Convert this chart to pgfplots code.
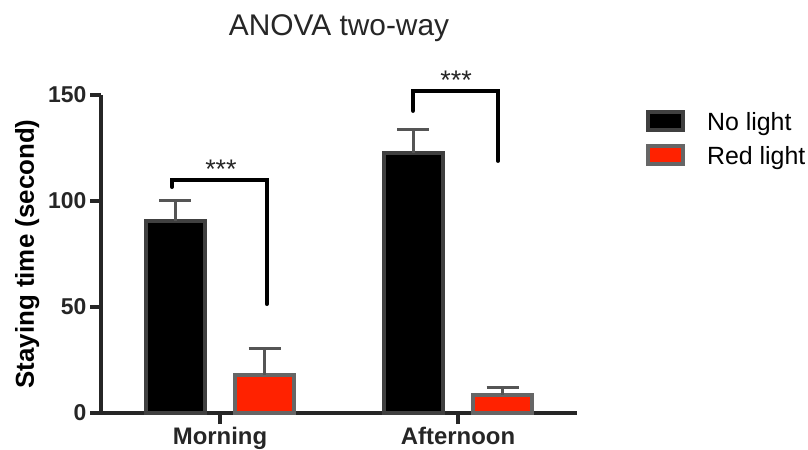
\documentclass[border=0pt]{standalone}
\usepackage{pgfplots}
\pgfplotsset{compat=1.18}
\usepackage{fontspec}
\setmainfont{Liberation Sans}
\definecolor{nlborder}{HTML}{404040}
\definecolor{rlborder}{HTML}{666666}
\definecolor{redfill}{HTML}{FF2200}
\definecolor{errgray}{HTML}{555555}
\definecolor{axisgray}{HTML}{262626}
\begin{document}
\begin{tikzpicture}
\begin{axis}[
  at={(101bp,37bp)}, anchor=south west,
  scale only axis, width=476bp, height=318bp,
  xmin=-0.5, xmax=1.5, ymin=0, ymax=150,
  clip=false,
  axis x line*=bottom, axis y line*=left,
  axis line style={line width=4bp, color=axisgray, -},
  tick style={line width=4bp, color=axisgray},
  major tick length=11bp, tick align=outside,
  xtick={0,1}, xticklabels={Morning, Afternoon},
  ytick={0,50,100,150},
  /pgf/number format/assume math mode=true,
  yticklabel style={font=\fontsize{23}{27}\selectfont\bfseries, color=axisgray},
  xticklabel style={font=\fontsize{24}{28}\selectfont\bfseries, color=axisgray, yshift=0bp},
  ylabel={Staying time (second)},
  ylabel style={at={(axis description cs:-0.155,0.5)}, anchor=center, font=\fontsize{26}{30}\selectfont\bfseries},
  title={ANOVA two-way},
  title style={at={(axis description cs:0.5,1)}, anchor=base, yshift=54bp, font=\fontsize{30}{34}\selectfont, color=axisgray},
  legend style={draw=none, fill=none, inner sep=0pt, outer sep=0pt,
    at={(1.145,0.953)}, anchor=north west, row sep=12bp,
    font=\fontsize{25}{29}\selectfont,
    nodes={inner sep=0pt},
    /tikz/every odd column/.append style={column sep=22bp}},
  legend cell align=left,
  legend image code/.code={\draw[#1, line width=4bp] (2bp,-8bp) rectangle (37bp,10bp);},
  error bars/y dir=plus, error bars/y explicit,
  error bars/error bar style={line width=3bp, color=errgray},
  error bars/error mark options={rotate=90, mark size=16bp, line width=3bp, color=errgray},
]
\addplot[ybar, bar width=0.244, bar shift=0pt, fill=black, draw=nlborder, line width=4bp]
  coordinates {(-0.187,90.5) +- (0,9.6) (0.813,122.6) +- (0,11.3)};
\addlegendentry{No light}
\addplot[ybar, bar width=0.244, bar shift=0pt, fill=redfill, draw=rlborder, line width=4bp]
  coordinates {(0.187,17.8) +- (0,12.8) (1.187,8.5) +- (0,3.5)};
\addlegendentry{Red light}
% significance brackets
\draw[black, line width=4bp, line cap=round, line join=miter]
  (axis cs:-0.202,106.6) -- (axis cs:-0.202,109.9) -- (axis cs:0.197,109.9) -- (axis cs:0.197,51.4);
\draw[black, line width=4bp, line cap=round, line join=miter]
  (axis cs:0.811,142.5) -- (axis cs:0.811,151.9) -- (axis cs:1.168,151.9) -- (axis cs:1.168,118.9);
\node[anchor=base, inner sep=0pt, font=\fontsize{27}{30}\selectfont, color=axisgray] at (axis cs:0.004,110.5) {***};
\node[anchor=base, inner sep=0pt, font=\fontsize{27}{30}\selectfont, color=axisgray] at (axis cs:0.992,152.5) {***};
\end{axis}
\pgfresetboundingbox
\path[use as bounding box] (0,0) rectangle (808bp,450bp);
\end{tikzpicture}
\end{document}
